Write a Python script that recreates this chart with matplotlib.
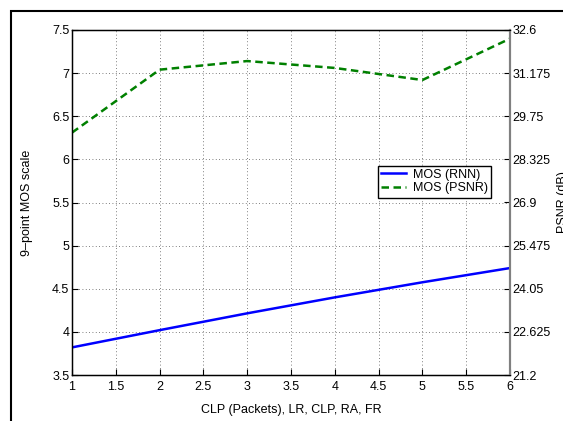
import matplotlib
matplotlib.use("Agg")
import matplotlib.pyplot as plt
from matplotlib.patches import Rectangle
import numpy as np

plt.rcParams['font.family'] = ['Liberation Sans', 'DejaVu Sans']

x = [1, 2, 3, 4, 5, 6]
mos_rnn = [3.82, 4.02, 4.215, 4.40, 4.575, 4.74]
mos_psnr = [6.31, 7.04, 7.14, 7.06, 6.92, 7.40]
xticks = [1, 1.5, 2, 2.5, 3, 3.5, 4, 4.5, 5, 5.5, 6]
yticks = [3.5, 4, 4.5, 5, 5.5, 6, 6.5, 7, 7.5]
yticks_right = ['21.2', '22.625', '24.05', '25.475', '26.9', '28.325', '29.75', '31.175', '32.6']

W, H = 563, 421
fig = plt.figure(figsize=(W/100, H/100), dpi=100)
L, R, T, B = 72, 510, 30, 375
ax = fig.add_axes([L/W, 1 - B/H, (R-L)/W, (B-T)/H])
FS = 9

ax.plot(x, mos_rnn, color='#0000ff', lw=1.8, label='MOS (RNN)')
ax.plot(x, mos_psnr, color='#008000', lw=1.8, ls=(0, (3.0, 1.8)), label='MOS (PSNR)')
ax.set_xlim(1, 6)
ax.set_ylim(3.5, 7.5)
ax.set_xticks(xticks)
ax.set_xticklabels([f'{v:g}' for v in xticks])
ax.set_yticks(yticks)
ax.set_yticklabels([f'{v:g}' for v in yticks])
ax.grid(True, ls=(0, (1, 3)), color='#555555', lw=0.6)
ax.tick_params(direction='in', length=4, labelsize=FS, pad=2, color='black')
ax.tick_params(axis='x', pad=4)
ax.set_xlabel('CLP (Packets), LR, CLP, RA, FR', fontsize=FS)
ax.xaxis.set_label_coords(0.5, -(404 - B) / (B - T))
ax.set_ylabel('9\u2013point MOS scale', fontsize=FS)
ax.yaxis.set_label_coords((33 - L) / (R - L), 0.5)
for s in ['top', 'left', 'bottom']:
    ax.spines[s].set_linewidth(1.0)
ax.spines['right'].set_color('#808080')
ax.spines['right'].set_linewidth(1.5)

ax2 = ax.twinx()
ax2.set_ylim(3.5, 7.5)
ax2.set_yticks(yticks)
ax2.set_yticklabels(yticks_right)
ax2.tick_params(direction='in', length=4, labelsize=FS, pad=2, color='black')
ax2.spines['right'].set_color('#808080')
ax2.spines['right'].set_linewidth(1.5)
ax2.set_ylabel('PSNR (dB)', fontsize=FS)
ax2.yaxis.set_label_coords((557 - L) / (R - L), 0.5)

leg = ax.legend(loc='upper left', bbox_to_anchor=((378-L)/(R-L), (B-165.5)/(B-T)),
                fontsize=FS, frameon=True, fancybox=False, framealpha=1,
                edgecolor='black', handlelength=2.0, borderpad=0.25,
                labelspacing=0.15, handletextpad=0.55, borderaxespad=0)
leg.get_frame().set_linewidth(1.0)

fig.patches.append(Rectangle((11/W, -0.2), 2, 1.2 - 11/H, transform=fig.transFigure,
                             fill=False, lw=1.5, edgecolor='black'))

fig.savefig('out.png', dpi=100)
